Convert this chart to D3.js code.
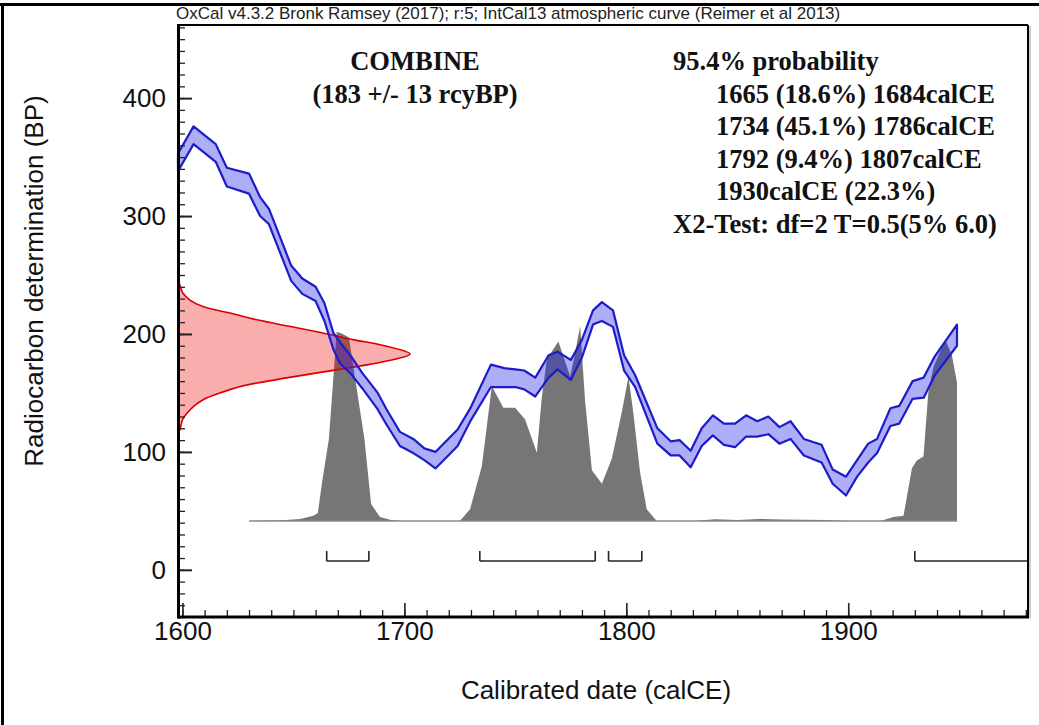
<!DOCTYPE html>
<html><head><meta charset="utf-8">
<script src="https://cdn.jsdelivr.net/npm/d3@7"></script>
<style>body{margin:0;background:#fff} svg{display:block}</style>
</head><body>
<svg id="chart" width="1039" height="725"></svg>
<script>
// ---------- data ----------
const titleText = "OxCal v4.3.2 Bronk Ramsey (2017); r:5; IntCal13 atmospheric curve (Reimer et al 2013)";
const xLabel = "Calibrated date (calCE)";
const yLabel = "Radiocarbon determination (BP)";
const xTicks = [1600, 1700, 1800, 1900];
const yTicks = [0, 100, 200, 300, 400];

// IntCal13 calibration curve band (calCE year, upper BP, lower BP)
const curveYear = [1598,1605,1615,1620,1630,1635,1639,1649,1654,1660,1664,1668,1671,1676,1681,1688,1692,1698,1704,1709,1714,1724,1730,1739,1745,1750,1754,1759,1765,1769,1775,1780,1785,1789,1794,1799,1804,1814,1820,1824,1829,1834,1839,1844,1849,1854,1859,1864,1869,1874,1880,1888,1893,1899,1904,1909,1913,1919,1923,1929,1934,1939,1949];
const curveHigh = [353,376,361,341,336,316,306,258,247,240,226,201,193,181,167,150,136,117,111,103,100,119,138,174,171,170,169,163,182,185,178,195,220,227,220,182,165,120,109,110,101,120,131,124,124,131,126,130,121,126,111,106,85,79,93,107,111,137,139,160,163,181,208];
const curveLow  = [338,361,346,325,319,300,293,245,234,228,211,187,175,166,154,136,123,105,99,93,86,105,127,155,155,155,153,147,163,170,161,180,208,211,206,169,155,107,97,97,87,105,114,106,104,113,113,115,107,111,97,91,73,63,79,91,99,122,124,145,146,165,190];

// measurement: 183 +/- 13 BP (relative likelihood)
const measBP   = [248,240,235,229,223,218,212,206.5,201,195,190,183,177,172.7,167,161.5,156,150,144.5,139,133,127.6,120,115];
const measDens = [0,0.01,0.02,0.05,0.11,0.22,0.34,0.48,0.62,0.76,0.89,1.0,0.90,0.78,0.60,0.43,0.28,0.18,0.11,0.07,0.04,0.02,0.01,0];

// posterior calibrated distribution (relative probability, % of peak)
const postYear = [1630,1645,1653,1659,1661,1663,1666,1669.5,1672,1675,1682,1685,1689,1694,1700,
  1722,1725,1729.6,1734.9,1739.4,1744.6,1749.9,1754.4,1759.7,1761.9,1764.2,1769.4,1774.7,1776.9,1779.2,1781.4,1784.5,1789,1793.5,1798,1801,1803.2,1806.2,1809.2,1813.7,
  1820,1830,1840,1850,1860,1870,1880,1890,1900,1910,
  1914.4,1920.4,1924.9,1928.7,1930.9,1933.9,1936.1,1938.4,1943.7,1946.7,1949];
const postProb = [0,0.3,1,2.6,4,20.5,42,97,96,94,42,8.7,2,0.5,0,
  0,0,6,28,69,58,58,52,35,63,83,92,74,86,100,62,26,19,32,56,74,55,25,6,0,
  0,0,0.8,0.5,1,0.7,0.6,0.4,0,0,
  0,2,2.6,27,31,33,66,79,93,85,71];
const postBaseBP = 41.5;

// 95.4% ranges
const rangeStart = [1665, 1734, 1792, 1930];
const rangeEnd   = [1684, 1786, 1807, null];

const headLeft = ["COMBINE", "(183 +/- 13 rcyBP)"];
const headRight = ["95.4% probability", "1665 (18.6%) 1684calCE", "1734 (45.1%) 1786calCE",
  "1792 (9.4%) 1807calCE", "1930calCE (22.3%)", "X2-Test: df=2 T=0.5(5% 6.0)"];

// ---------- drawing ----------
const svg = d3.select("#chart");
const P = {left:178, right:1028, top:25, bottom:617};
const x = d3.scaleLinear().domain([1598, 1981]).range([P.left, P.right]);
const y = d3.scaleLinear().domain([-40, 462]).range([P.bottom, P.top]);
const pY = d3.scaleLinear().domain([0, 100]).range([y(postBaseBP), y(postBaseBP) - 195]);
const dX = d3.scaleLinear().domain([0, 1]).range([P.left, P.left + 232]);

svg.append("rect").attr("width",1039).attr("height",725).attr("fill","#fff");

// outer border
svg.append("line").attr("x1",0).attr("x2",1039).attr("y1",4.5).attr("y2",4.5).attr("stroke","#000").attr("stroke-width",3);
svg.append("line").attr("x1",2.5).attr("x2",2.5).attr("y1",3).attr("y2",725).attr("stroke","#000").attr("stroke-width",3);

// posterior
const post = postYear.map((yr,i)=>({yr, p:postProb[i]}));
svg.append("path").datum(post)
  .attr("d", d3.area().x(d=>x(d.yr)).y0(pY(0)).y1(d=>pY(d.p)))
  .attr("fill","#767676");
svg.append("line").attr("x1",x(postYear[0])).attr("x2",x(postYear[postYear.length-1]))
  .attr("y1",pY(0)).attr("y2",pY(0)).attr("stroke","#8a8a8a").attr("stroke-width",1.5);

// measurement distribution
const meas = measBP.map((bp,i)=>({bp, d:measDens[i]}));
svg.append("path").datum(meas)
  .attr("d", d3.area().y(d=>y(d.bp)).x0(P.left).x1(d=>dX(d.d)).curve(d3.curveCatmullRom))
  .attr("fill","rgba(240,0,0,0.32)");
svg.append("path").datum(meas)
  .attr("d", d3.line().y(d=>y(d.bp)).x(d=>dX(d.d)).curve(d3.curveCatmullRom))
  .attr("fill","none").attr("stroke","#d80000").attr("stroke-width",1.6);

// calibration curve band
const curve = curveYear.map((yr,i)=>({yr, hi:curveHigh[i], lo:curveLow[i]}));
svg.append("path").datum(curve)
  .attr("d", d3.area().x(d=>x(d.yr)).y0(d=>y(d.lo)).y1(d=>y(d.hi)))
  .attr("fill","rgba(30,30,235,0.36)")
  .attr("stroke","#1c1cc8").attr("stroke-width",2.2).attr("stroke-linejoin","round");

// range brackets
const brY = y(7.5), brTick = 10;
rangeStart.forEach((s,i)=>{
  const e = rangeEnd[i];
  const xe = e === null ? P.right : x(e);
  const g = svg.append("g").attr("stroke","#222").attr("stroke-width",1.6).attr("fill","none");
  g.append("line").attr("x1",x(s)).attr("x2",xe).attr("y1",brY).attr("y2",brY);
  g.append("line").attr("x1",x(s)).attr("x2",x(s)).attr("y1",brY).attr("y2",brY-brTick);
  if (e !== null) g.append("line").attr("x1",xe).attr("x2",xe).attr("y1",brY).attr("y2",brY-brTick);
});

// axes
const sans = "'Liberation Sans', Arial, sans-serif";
const serif = "'Liberation Serif', 'Times New Roman', serif";
const minorX = d3.range(1600, 1981, 10);
const minorY = d3.range(-40, 461, 10);
const gxm = svg.append("g").attr("transform",`translate(0,${P.bottom})`)
  .call(d3.axisBottom(x).tickValues(minorX).tickSize(-7).tickFormat(""));
const gx = svg.append("g").attr("transform",`translate(0,${P.bottom})`)
  .call(d3.axisBottom(x).tickValues(xTicks).tickSizeInner(-14).tickSizeOuter(0).tickPadding(5).tickFormat(d3.format("d")));
const gym = svg.append("g").attr("transform",`translate(${P.left},0)`)
  .call(d3.axisLeft(y).tickValues(minorY).tickSize(-7).tickFormat(""));
const gy = svg.append("g").attr("transform",`translate(${P.left},0)`)
  .call(d3.axisLeft(y).tickValues(yTicks).tickSizeInner(-14).tickSizeOuter(0).tickPadding(12).tickFormat(d3.format("d")));
[gxm,gx,gym,gy].forEach(g=>{
  g.select(".domain").remove();
  g.selectAll(".tick line").attr("stroke","#222").attr("stroke-width",1.3);
  g.selectAll("text").attr("font-family",sans).attr("font-size",26).attr("fill","#111");
});
gx.selectAll(".tick line").attr("stroke-width",1.6);
gy.selectAll(".tick line").attr("stroke-width",2);

// frame
svg.append("line").attr("x1",P.right+2).attr("x2",P.right+2).attr("y1",P.top+1).attr("y2",P.bottom+1).attr("stroke","#bbb").attr("stroke-width",1.5);
svg.append("line").attr("x1",P.left).attr("x2",P.right).attr("y1",P.top).attr("y2",P.top).attr("stroke","#000").attr("stroke-width",2);
svg.append("line").attr("x1",P.right).attr("x2",P.right).attr("y1",P.top).attr("y2",P.bottom).attr("stroke","#000").attr("stroke-width",2);
svg.append("line").attr("x1",P.left).attr("x2",P.right+1).attr("y1",P.bottom).attr("y2",P.bottom).attr("stroke","#000").attr("stroke-width",3);
svg.append("line").attr("x1",P.left+0.5).attr("x2",P.left+0.5).attr("y1",P.top-1).attr("y2",P.bottom+1.5).attr("stroke","#000").attr("stroke-width",3);

// texts
svg.append("text").attr("x",176).attr("y",19).attr("font-family",sans).attr("font-size",17)
  .attr("fill","#222").text(titleText);
svg.append("text").attr("x",596).attr("y",699).attr("text-anchor","middle")
  .attr("font-family",sans).attr("font-size",26).attr("fill","#111").text(xLabel);
svg.append("text").attr("transform","translate(43,281) rotate(-90)").attr("text-anchor","middle")
  .attr("font-family",sans).attr("font-size",26).attr("fill","#111").text(yLabel);

headLeft.forEach((t,i)=>{
  svg.append("text").attr("x",415).attr("y",70 + i*33).attr("text-anchor","middle")
    .attr("font-family",serif).attr("font-weight","bold").attr("font-size",26.5).attr("fill","#111").text(t);
});
headRight.forEach((t,i)=>{
  const indent = (i === 0 || i === headRight.length-1) ? 673 : 716;
  svg.append("text").attr("x",indent).attr("y",70 + i*32.6)
    .attr("font-family",serif).attr("font-weight","bold").attr("font-size",26.5).attr("fill","#111").text(t);
});
</script>
</body></html>
